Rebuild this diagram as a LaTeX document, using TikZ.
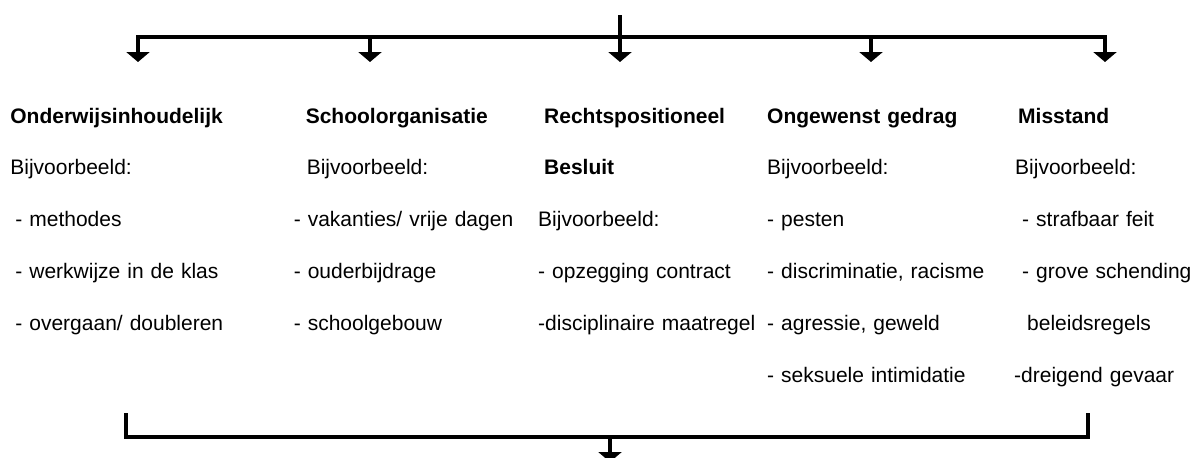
\documentclass[tikz,border=0pt]{standalone}
\usepackage{fontspec}
\setmainfont{Liberation Sans}
\usetikzlibrary{arrows.meta, positioning, matrix}
\tikzset{
	lijn/.style={line width=2pt},
}
\begin{document}
\begin{tikzpicture}[x=0.5pt, y=-0.5pt, >={Triangle[width=11.5pt,length=5pt]}]
	\useasboundingbox (0,0) rectangle (1192,457);
		\matrix[%
		matrix of nodes, ampersand replacement=\&,
		matrix anchor=kl-1-1.base west,
		row sep=14.9pt, column sep=0pt,
		nodes={anchor=base west, inner sep=0pt, align=left, text height=8pt, text depth=3pt, font=\fontsize{10.5}{12}\selectfont},
		column 1/.style={text width=141.5pt},%
		column 2/.style={text width=122pt},
		column 3/.style={text width=114.5pt},
		column 4/.style={text width=123.5pt},
		column 5/.style={text width=89.5pt},%
		] (kl) at (10,123)
	{
		\textbf{Onderwijsinhoudelijk} \& \hspace*{6pt}\textbf{Schoolorganisatie} \& \hspace*{3pt}\textbf{Rechtspositioneel} \& \textbf{Ongewenst gedrag} \& \hspace*{2pt}\textbf{Misstand}\\
		Bijvoorbeeld: \& \hspace*{6.5pt}Bijvoorbeeld: \& \hspace*{3pt}\textbf{Besluit} \& Bijvoorbeeld: \& \hspace*{0.5pt}Bijvoorbeeld:\\
		\hspace*{2.5pt}- methodes \& - vakanties/ vrije dagen \& Bijvoorbeeld: \& - pesten \& \hspace*{4pt}- strafbaar feit\\
		\hspace*{2.5pt}- werkwijze in de klas \& - ouderbijdrage \& - opzegging contract \& - discriminatie, racisme \& \hspace*{4pt}- grove schending\\
		\hspace*{2.5pt}- overgaan/ doubleren \& - schoolgebouw \& -disciplinaire maatregel \& - agressie, geweld \& \hspace*{6.5pt}beleidsregels\\
		\& \& \& - seksuele intimidatie \& -dreigend gevaar\\
	};
	% verdeling boven
	\coordinate (in) at (620,15);
	\coordinate (hub) at (620,37);
	\foreach \x [count=\i] in {138,370,620,871,1105}
		\coordinate (pijl\i) at (\x,62);
	\draw[lijn] (in) -- (hub);
	\draw[lijn, <->] (pijl1) |- (hub) -| (pijl5);
	\foreach \i in {2,3,4}
		\draw[lijn, ->] (pijl\i |- hub) -- (pijl\i);
	% samenkomst onder
	\coordinate (lo) at (126,413);
	\coordinate (ro) at (1088,413);
	\coordinate (uit) at (610,437);
	\coordinate (eind) at (610,462);
	\draw[lijn] (lo) |- (uit) -| (ro);
	\draw[lijn, ->] (uit) -- (eind);
\end{tikzpicture}
\end{document}
